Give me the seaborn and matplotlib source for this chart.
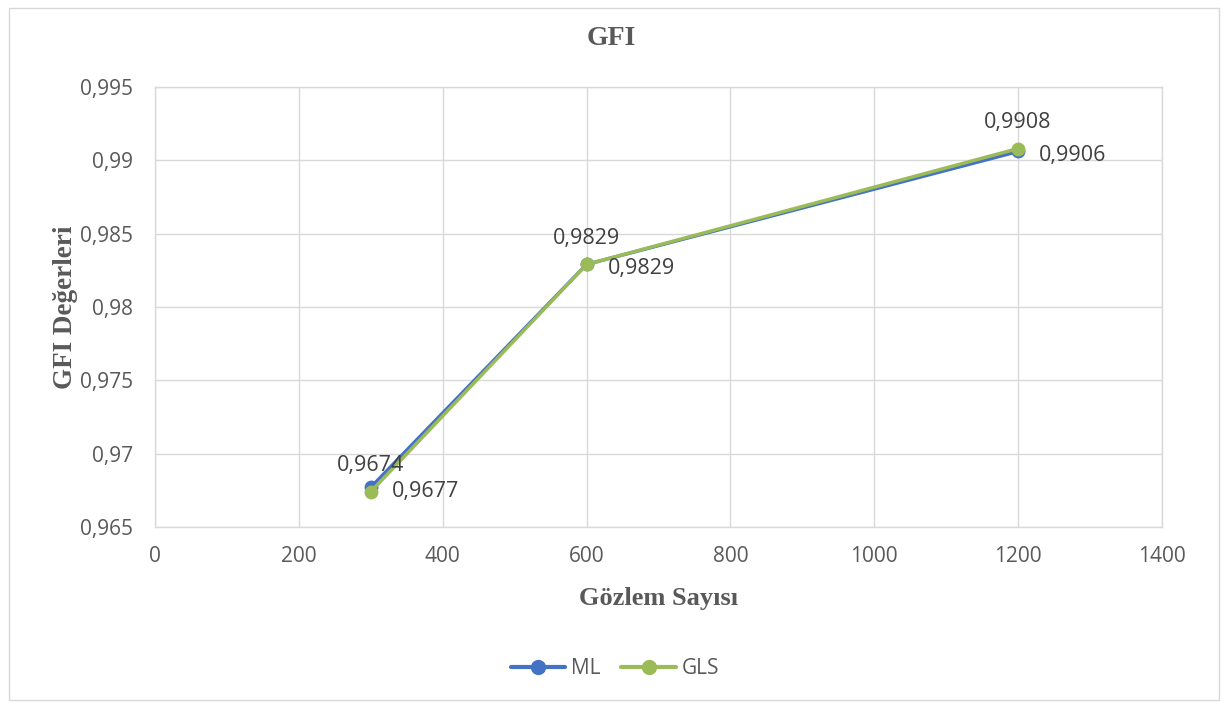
import matplotlib.pyplot as plt
import matplotlib.patches as mpatches
import pandas as pd
import seaborn as sns

# Chart values
gozlem = [300, 600, 1200]
ml_values = [0.9677, 0.9829, 0.9906]
gls_values = [0.9674, 0.9829, 0.9908]
series_names = ["ML", "GLS"]
x_ticks = [0, 200, 400, 600, 800, 1000, 1200, 1400]
y_ticks = [0.965, 0.97, 0.975, 0.98, 0.985, 0.99, 0.995]
y_tick_labels = ["0,965", "0,97", "0,975", "0,98", "0,985", "0,99", "0,995"]


def fmt(v):
    return f"{v:.4f}".replace(".", ",")


def main():
    sns.set_theme(style="white")
    plt.rcParams["font.family"] = ["Open Sans", "DejaVu Sans"]

    df = pd.DataFrame({
        "n": gozlem * 2,
        "gfi": ml_values + gls_values,
        "seri": [series_names[0]] * 3 + [series_names[1]] * 3,
    })

    palette = {"ML": "#4472C4", "GLS": "#9BBB59"}
    gray = "#595959"

    fig = plt.figure(figsize=(12.3, 7.08), dpi=100)
    fig.patches.append(mpatches.Rectangle((0.007, 0.011), 0.984, 0.978, transform=fig.transFigure,
                                          fill=False, edgecolor="#d9d9d9", linewidth=1))
    ax = fig.add_axes([0.126, 0.2557, 0.8187, 0.6215])

    sns.lineplot(data=df, x="n", y="gfi", hue="seri", palette=palette, marker="o",
                 markersize=10, markeredgewidth=0, linewidth=2.5, ax=ax, legend=False)

    ax.set_xlim(0, 1400)
    ax.set_ylim(0.965, 0.995)
    ax.set_xticks(x_ticks)
    ax.set_xticklabels([str(t) for t in x_ticks])
    ax.set_yticks(y_ticks)
    ax.set_yticklabels(y_tick_labels)
    ax.tick_params(axis="both", length=0, labelsize=15, colors=gray)
    ax.tick_params(axis="x", pad=14)
    ax.tick_params(axis="y", pad=16)
    ax.grid(True, color="#d9d9d9", linewidth=1)
    for s in ax.spines.values():
        s.set_color("#d9d9d9")
        s.set_linewidth(1)

    # data labels: ML to the right, GLS above
    for x, v in zip(gozlem, ml_values):
        ax.annotate(fmt(v), (x, v), xytext=(15, -3), textcoords="offset points",
                    ha="left", va="center", fontsize=15.5, color="#404040")
    for x, v in zip(gozlem, gls_values):
        ax.annotate(fmt(v), (x, v), xytext=(0, 11), textcoords="offset points",
                    ha="center", va="bottom", fontsize=15.5, color="#404040")

    serif = ["Liberation Serif", "DejaVu Serif"]
    fig.text(0.497, 0.945, "GFI", ha="center", va="center", fontsize=20, fontweight="bold",
             color=gray, family=serif)
    ax.set_xlabel("Gözlem Sayısı", fontsize=19, fontweight="bold", color=gray, family=serif, labelpad=14)
    ax.set_ylabel("GFI Değerleri", fontsize=19.5, fontweight="bold", color=gray, family=serif, labelpad=1)

    handles = [plt.Line2D([], [], color=palette[n], marker="o", markersize=11, linewidth=3,
                          markeredgewidth=0) for n in series_names]
    fig.legend(handles, series_names, loc="center", bbox_to_anchor=(0.5, 0.056), ncol=2,
               frameon=False, fontsize=15, labelcolor=gray, handlelength=2.6, columnspacing=1.0,
               handletextpad=0.3)

    fig.savefig("out.png", dpi=100)


if __name__ == "__main__":
    main()
